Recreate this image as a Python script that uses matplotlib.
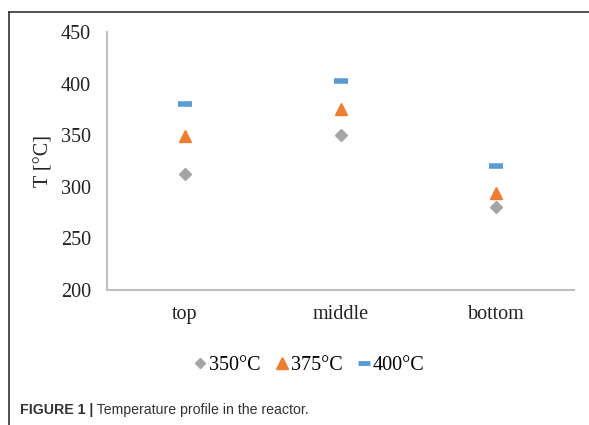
import matplotlib
matplotlib.use("Agg")
import matplotlib.pyplot as plt
from matplotlib.lines import Line2D

# Reactor positions and measured temperatures for each set-point
positions = ["top", "middle", "bottom"]
t_350 = [312, 350, 280]
t_375 = [349, 375, 294]
t_400 = [380, 403, 320]
series_labels = ["350°C", "375°C", "400°C"]
y_ticks = [200, 250, 300, 350, 400, 450]

grey = "#a5a5a5"
orange = "#ed7d31"
blue = "#5b9bd5"
serif = "Liberation Serif"
fs = 14.5

fig = plt.figure(figsize=(5.89, 4.25), dpi=100)
ax = fig.add_axes([0.1817, 0.3176, 0.7928, 0.6071])

x = list(range(len(positions)))
ax.plot(x, t_350, linestyle="none", marker="D", ms=6.3, color=grey, mec=grey)
ax.plot(x, t_375, linestyle="none", marker="^", ms=9, color=orange, mec=orange)
ax.plot(x, t_400, linestyle="none", marker="_", ms=10.5, mew=4, color=blue)

ax.set_xlim(-0.5, len(positions) - 0.5)
ax.set_ylim(200, 450)
ax.set_yticks(y_ticks)
ax.set_xticks(x)
ax.set_xticklabels(positions)
ax.tick_params(length=0, labelsize=fs)
ax.tick_params(axis="y", pad=11.5)
ax.tick_params(axis="x", pad=11)
for lbl in ax.get_xticklabels() + ax.get_yticklabels():
    lbl.set_fontfamily(serif)
    lbl.set_color("#222222")

for side in ("top", "right"):
    ax.spines[side].set_visible(False)
for side in ("left", "bottom"):
    ax.spines[side].set_color("#bfbfbf")
    ax.spines[side].set_linewidth(1.5)

ax.set_ylabel("T [°C]", fontsize=fs, fontfamily=serif, color="#222222")
ax.yaxis.set_label_coords(-0.114, 0.5)

handles = [
    Line2D([], [], linestyle="none", marker="D", ms=5, color=grey),
    Line2D([], [], linestyle="none", marker="^", ms=8, color=orange),
    Line2D([], [], linestyle="none", marker="_", ms=8, mew=3.5, color=blue),
]
fig.legend(handles, series_labels, loc="center", bbox_to_anchor=(0.524, 0.141),
           ncol=3, frameon=False, handlelength=0.7, handletextpad=0.1,
           columnspacing=0.7, prop={"family": serif, "size": fs})

# Figure frame (top and left edges)
frame_color = "#333333"
fig.add_artist(Line2D([9 / 589, 9 / 589], [0, 1 - 12 / 425], transform=fig.transFigure,
                      color=frame_color, lw=1.2))
fig.add_artist(Line2D([9 / 589, 1], [1 - 12 / 425, 1 - 12 / 425], transform=fig.transFigure,
                      color=frame_color, lw=1.2))

# Caption
cap = fig.text(20 / 589, 1 - 410 / 425, "FIGURE 1 |", fontsize=10.2, fontweight="bold",
               fontfamily="Liberation Sans", color="#333333", va="center")
fig.canvas.draw()
ax.annotate(" Temperature profile in the reactor.", xy=(1, 0.5), xycoords=cap,
            va="center", ha="left", fontsize=10.2, fontfamily="Liberation Sans",
            color="#333333", annotation_clip=False)

fig.savefig("out.png", dpi=100)
